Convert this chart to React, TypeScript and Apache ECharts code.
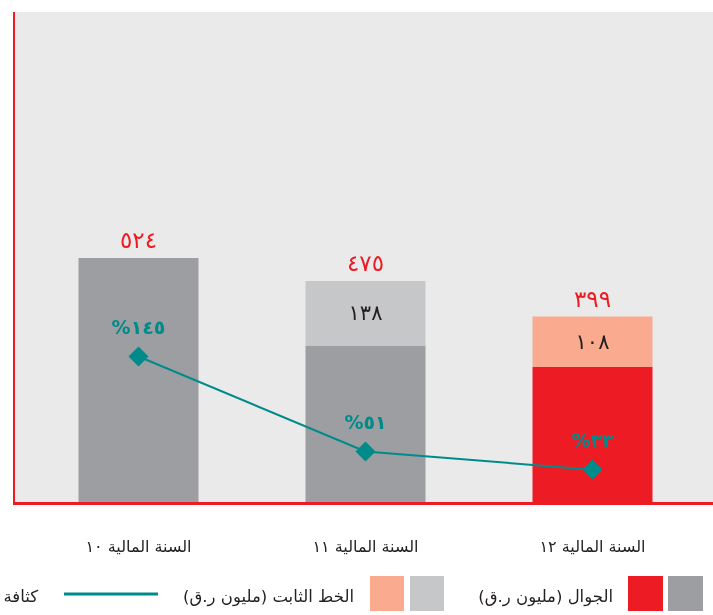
import React, { useEffect, useRef } from "react";
import * as echarts from "echarts";

const categories = ["السنة المالية ١٠", "السنة المالية ١١", "السنة المالية ١٢"];
const mobile = [524, 337, 291];
const fixedLine: (number | null)[] = [null, 138, 108];
const totals = [524, 475, 399];
const density = [145, 51, 33];

const legendLabels = ["الجوال (مليون ر.ق)", "الخط الثابت (مليون ر.ق)", "كثافة الانتشار"];

const mobileColors = ["#9D9EA1", "#9D9EA1", "#ED1C24"];
const fixedColors = ["#C6C7C9", "#C6C7C9", "#F9AA8F"];
const RED = "#ED1C24";
const TEAL = "#008B8B";
const DARK = "#231F20";
const FONT = "'DejaVu Sans', 'Noto Sans', sans-serif";

const toArabic = (n: number | string) =>
  String(n).replace(/\d/g, (d) => "٠١٢٣٤٥٦٧٨٩"[+d]);

export default function App() {
  const ref = useRef<HTMLDivElement>(null);
  useEffect(() => {
    if (!ref.current) return;
    const chart = echarts.init(ref.current, null, { renderer: "svg" });
    const option: any = {
      animation: false,
      textStyle: { fontFamily: FONT },
      grid: { left: 25, right: 7, top: 12, bottom: 112 },
      xAxis: {
        type: "category",
        data: categories,
        axisLine: { show: false },
        axisTick: { show: false },
        axisLabel: { color: DARK, fontSize: 16, margin: 35, fontFamily: FONT },
      },
      yAxis: [
        { type: "value", min: 0, max: 1050, show: false, splitLine: { show: false } },
        { type: "value", min: 0, max: 486, show: false, splitLine: { show: false } },
      ],
      graphic: [
        { type: "rect", z: -10, shape: { x: 14, y: 12, width: 699, height: 491 }, style: { fill: "#EAEAEA" } },
        { type: "line", z: 50, shape: { x1: 14, y1: 12, x2: 14, y2: 503 }, style: { stroke: RED, lineWidth: 2 } },
        { type: "line", z: 50, shape: { x1: 13, y1: 503.5, x2: 713, y2: 503.5 }, style: { stroke: RED, lineWidth: 3 } },
        // legend
        { type: "rect", shape: { x: 668, y: 576, width: 35, height: 35 }, style: { fill: mobileColors[0] } },
        { type: "rect", shape: { x: 628, y: 576, width: 35, height: 35 }, style: { fill: mobileColors[2] } },
        { type: "text", x: 613, y: 596, style: { text: legendLabels[0], align: "right", verticalAlign: "middle", fill: DARK, fontSize: 16.5, fontFamily: FONT } },
        { type: "rect", shape: { x: 410, y: 576, width: 34, height: 35 }, style: { fill: fixedColors[0] } },
        { type: "rect", shape: { x: 370, y: 576, width: 34, height: 35 }, style: { fill: fixedColors[2] } },
        { type: "text", x: 354, y: 596, style: { text: legendLabels[1], align: "right", verticalAlign: "middle", fill: DARK, fontSize: 16.5, fontFamily: FONT } },
        { type: "line", shape: { x1: 64, y1: 594, x2: 158, y2: 594 }, style: { stroke: TEAL, lineWidth: 3 } },
        { type: "text", x: 38, y: 596, style: { text: legendLabels[2], align: "right", verticalAlign: "middle", fill: DARK, fontSize: 16.5, fontFamily: FONT } },
      ],
      series: [
        {
          name: "mobile",
          type: "bar",
          stack: "a",
          barWidth: 120,
          barGap: "-100%",
          data: mobile.map((v, i) => ({ value: v, itemStyle: { color: mobileColors[i] } })),
        },
        {
          name: "fixed",
          type: "bar",
          stack: "a",
          barWidth: 120,
          barGap: "-100%",
          data: fixedLine.map((v, i) => ({ value: v, itemStyle: { color: fixedColors[i] } })),
          label: {
            show: true,
            position: "inside",
            color: DARK,
            fontSize: 21,
            fontFamily: FONT,
            formatter: (p: any) => (p.value == null ? "" : toArabic(p.value)),
          },
        },
        {
          name: "total",
          type: "bar",
          barWidth: 120,
          barGap: "-100%",
          data: totals,
          itemStyle: { color: "rgba(0,0,0,0)" },
          silent: true,
          label: {
            show: true,
            position: "top",
            distance: 6,
            color: RED,
            fontSize: 23,
            fontFamily: FONT,
            formatter: (p: any) => toArabic(p.value),
          },
        },
        {
          name: "density",
          type: "line",
          yAxisIndex: 1,
          z: 5,
          data: density,
          symbol: "diamond",
          symbolSize: 20,
          lineStyle: { color: TEAL, width: 2 },
          itemStyle: { color: TEAL },
          label: {
            show: true,
            position: "top",
            distance: 10,
            color: TEAL,
            fontSize: 19,
            fontWeight: "bold",
            fontFamily: FONT,
            formatter: (p: any) => "%" + toArabic(p.value),
          },
        },
      ],
    };
    chart.setOption(option);
    return () => chart.dispose();
  }, []);
  return (
    <div
      ref={ref}
      style={{ position: "fixed", left: 0, top: 0, width: 713, height: 615 }}
    />
  );
}
